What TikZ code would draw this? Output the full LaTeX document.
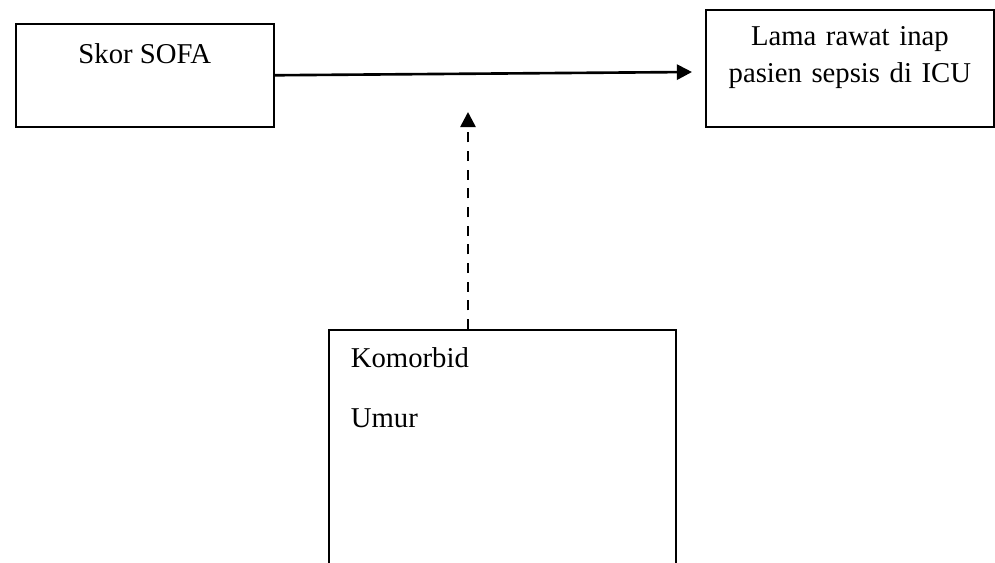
\documentclass[tikz,border=0pt]{standalone}
\usepackage{fontspec}
\setmainfont{Liberation Serif}
\usetikzlibrary{arrows.meta}

\begin{document}
\begin{tikzpicture}[x=0.418pt, y=-0.418pt,
    box node/.style={rectangle, draw, line width=0.7pt, inner sep=0pt, anchor=north west, font=\fontsize{12}{15.5}\selectfont},
    tip/.style={-{Triangle[length=6.3pt, width=6.3pt]}}]

          \clip (0,0) rectangle (995,563);

          \node[box node, minimum width=107.8pt, text height=16.7pt, text depth=26.3pt] (sofa) at (15,23) {Skor SOFA};
          \node[box node, text width=120.4pt, align=center, text height=15pt, text depth=33.9pt] (lama) at (705,9) {Lama rawat inap\\pasien sepsis di ICU};
          \node[box node, inner xsep=9.2pt, text width=126.6pt, align=left, text height=15.9pt, text depth=93.2pt] (komorbid) at (328,329) {Komorbid\\[9.6pt]Umur};

          \coordinate (end) at (692,72);
          \coordinate (mid) at (468,112);

          \draw[tip, line width=1.1pt] (sofa.east) -- (end);
          \draw[tip, line width=1.1pt, dash pattern=on 4.2pt off 3.6pt] (komorbid.north -| mid) -- (mid);
        \end{tikzpicture}
\end{document}
